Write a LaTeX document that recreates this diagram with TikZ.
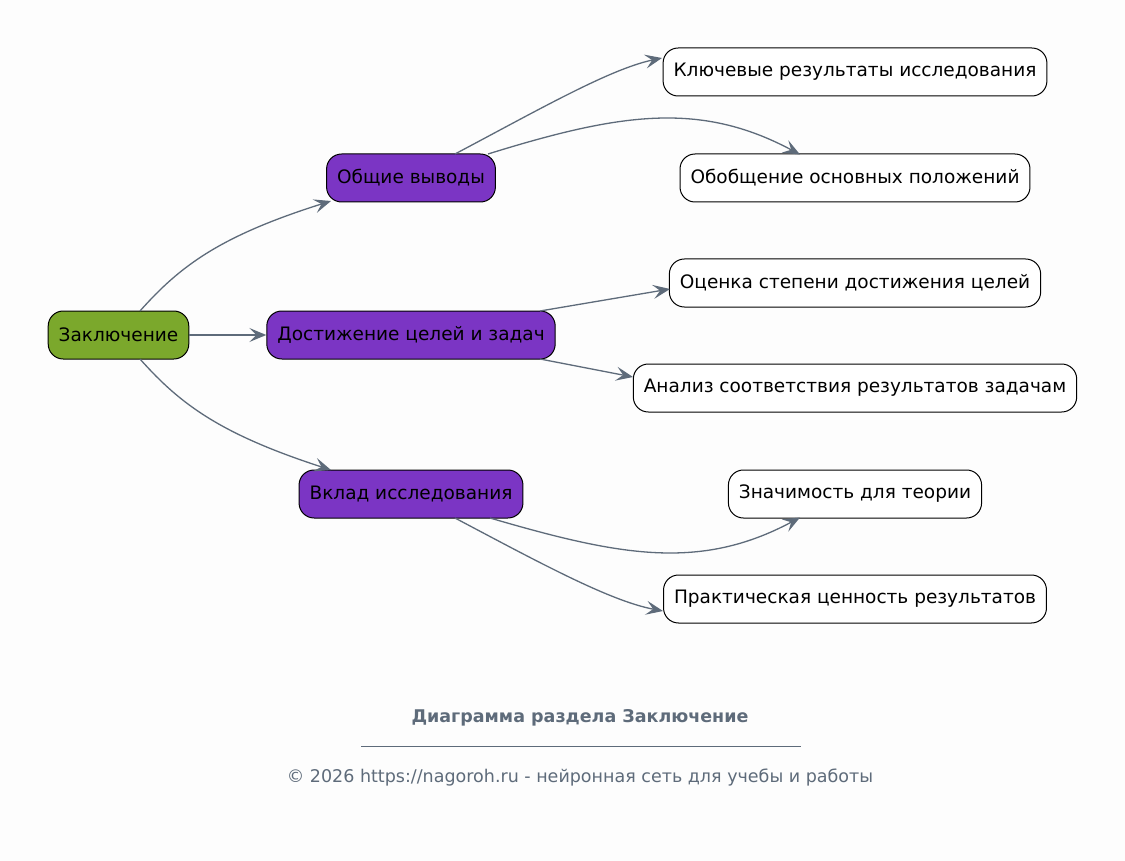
\documentclass[tikz,border=0pt]{standalone}
\usepackage{fontspec}
\setmainfont{DejaVu Sans}
\usetikzlibrary{arrows.meta}
\definecolor{bg}{HTML}{FDFDFD}
\definecolor{edge}{HTML}{5E6B7A}
\definecolor{rootc}{HTML}{7BA82C}
\definecolor{midc}{HTML}{7B35C4}
\tikzset{
  box/.style={draw=black, line width=1pt, rounded corners=15pt, minimum height=48pt, inner xsep=10.5pt, font=\fontsize{18.5}{22}\selectfont, text=black},
  rootbox/.style={box, fill=rootc},
  midbox/.style={box, fill=midc},
  leafbox/.style={box, fill=white},
  conn/.style={draw=edge, line width=1.3pt, -{Stealth[length=17pt,width=14pt,inset=7pt]}},
  foot/.style={text=edge, font=\fontsize{17.5}{20}\selectfont}
}
\begin{document}
\begin{tikzpicture}[x=1pt,y=-1pt]
\fill[bg] (0,0) rectangle (1125,861);
\useasboundingbox (0,0) rectangle (1125,861);
\node[rootbox] (root) at (118.5,335) {Заключение};
\node[midbox] (m1) at (411,178) {Общие выводы};
\node[midbox] (m2) at (411,335) {Достижение целей и задач};
\node[midbox] (m3) at (411,494) {Вклад исследования};
\node[leafbox] (l1) at (855,72) {Ключевые результаты исследования};
\node[leafbox] (l2) at (855,178) {Обобщение основных положений};
\node[leafbox] (l3) at (855,283) {Оценка степени достижения целей};
\node[leafbox] (l4) at (855,388) {Анализ соответствия результатов задачам};
\node[leafbox] (l5) at (855,494) {Значимость для теории};
\node[leafbox] (l6) at (855,599) {Практическая ценность результатов};
% anchor points
\coordinate (r1) at (140,311);
\coordinate (r3) at (140,359);
\coordinate (m1in) at (331,201);
\coordinate (m3in) at (331,470);
\coordinate (a1) at (455,154);
\coordinate (a2) at (488,154);
\coordinate (b1) at (662,58);
\coordinate (b2) at (800,154.5);
\coordinate (a3) at (540,311);
\coordinate (b3) at (670,289);
\coordinate (a4) at (540,359);
\coordinate (b4) at (633,377);
\coordinate (a5) at (490,518);
\coordinate (b5) at (800,517.5);
\coordinate (a6) at (455,518);
\coordinate (b6) at (663,611);
% edges
\draw[conn] (r1) .. controls (180,266) and (220,236) .. (m1in);
\draw[conn] (root.east) -- (m2.west);
\draw[conn] (r3) .. controls (180,404) and (220,434) .. (m3in);
\draw[conn] (a1) .. controls (540,109) and (610,69) .. (b1);
\draw[conn] (a2) .. controls (620,113) and (700,101) .. (b2);
\draw[conn] (a3) -- (b3);
\draw[conn] (a4) -- (b4);
\draw[conn] (a5) .. controls (620,556) and (700,571) .. (b5);
\draw[conn] (a6) .. controls (540,563) and (610,601) .. (b6);
% footer
\node[foot, font=\fontsize{17.5}{20}\selectfont\bfseries] (t) at (580,718) {Диаграмма раздела Заключение};
\coordinate (ls) at (361,746);
\coordinate (le) at (801,746);
\draw[edge, line width=0.8pt] (ls) -- (le);
\node[foot] (c) at (580,778) {© 2026 https://nagoroh.ru - нейронная сеть для учебы и работы};
\end{tikzpicture}
\end{document}
